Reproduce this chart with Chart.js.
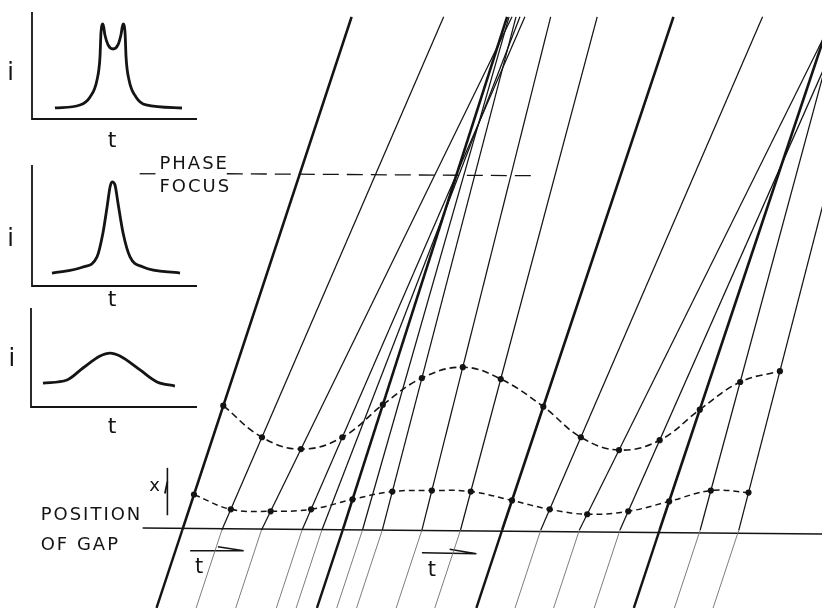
<!DOCTYPE html>
<html>
<head>
<meta charset="utf-8">
<script src="https://cdn.jsdelivr.net/npm/chart.js@4.4.1/dist/chart.umd.min.js"></script>
<style>
  body { margin: 0; background: #fff; }
  #wrap { position: relative; width: 826px; height: 612px; overflow: hidden; }
  canvas { position: absolute; left: 0; }
</style>
</head>
<body>
<div id="wrap">
  <canvas id="main" width="826" height="612" style="top:0"></canvas>
  <canvas id="inset1" width="205" height="150" style="top:0"></canvas>
  <canvas id="inset2" width="205" height="160" style="top:155px"></canvas>
  <canvas id="inset3" width="205" height="150" style="top:295px"></canvas>
</div>
<script>
// electron trajectories: time leaving the gap, time reaching the top edge
const departTimes = [180, 220, 260, 301, 342, 382, 422, 461, 503, 542, 581, 622, 662, 703, 742];
const topTimes    = [351, 444, 513, 526, 508, 517, 552, 599, 676, 766, 838, 851, 835, 843, 876];
const heavyLines  = [0, 4, 8, 12];
// extra trajectories in the bunch (no dots on them)
const extraDepart = [321, 362];
const extraTop    = [521, 510];
// positions of the dots on the two dashed curves (distance above the gap)
const upperDotHeights = [126, 94, 82, 94, 127, 154, 165, 153, 125, 94, 81, 91, 122, 150, 161];
const lowerDotHeights = [36, 21, 19, 21, 31, 39, 40, 39, 30, 21, 16, 19, 29, 40, 38];
const topHeight = 520;
const bottomHeight = -79;
const entryDrift = 26; // time shift of every electron between the bottom edge and the gap

// current pulses in the three small plots
const inset1T = [1.39, 2.91, 3.52, 3.94, 4.12, 4.18, 4.30, 4.42, 4.61, 4.91, 5.21, 5.39, 5.52, 5.64, 5.70, 5.88, 6.30, 6.91, 9.09];
const inset1I = [1.03, 1.31, 2.06, 3.64, 5.79, 8.04, 8.88, 7.85, 6.92, 6.54, 6.92, 7.85, 8.88, 8.04, 5.79, 3.64, 2.06, 1.31, 1.03];
const inset2T = [1.21, 3.09, 3.94, 4.30, 4.55, 4.73, 4.85, 5.03, 5.21, 5.52, 5.94, 6.73, 8.97];
const inset2I = [1.07, 1.57, 2.40, 4.38, 6.53, 8.18, 8.60, 8.35, 6.86, 4.38, 2.40, 1.57, 1.07];
const inset3T = [0.72, 2.17, 3.13, 4.16, 4.76, 5.36, 6.57, 7.59, 8.67];
const inset3I = [2.42, 2.73, 3.94, 5.15, 5.45, 5.15, 3.74, 2.53, 2.12];

const INK = '#141414';
const CAPS = '18px "DejaVu Sans"';

function textPlugin(items) {
    return {
        id: 'texts',
        afterDatasetsDraw(chart) {
            const ctx = chart.ctx;
            const sx = chart.scales.x, sy = chart.scales.y;
            ctx.save();
            ctx.fillStyle = INK;
            ctx.textBaseline = 'alphabetic';
            items.forEach(it => {
                ctx.font = it.font;
                ctx.textAlign = it.align || 'left';
                ctx.letterSpacing = it.spacing || '0px';
                ctx.fillText(it.text, sx.getPixelForValue(it.t), sy.getPixelForValue(it.v));
            });
            ctx.restore();
        }
    };
}

function trajectory(t0, tTop, heavy) {
    return {
        data: [
            { x: t0 - entryDrift, y: bottomHeight },
            { x: t0, y: 0 },
            { x: tTop, y: topHeight }
        ],
        showLine: true,
        borderColor: INK,
        borderWidth: heavy ? 2.6 : 1.2,
        pointRadius: 0,
        segment: {
            borderColor: c => (c.p0DataIndex === 0 && !heavy) ? '#6e6e6e' : INK,
            borderWidth: c => c.p0DataIndex === 0 ? (heavy ? 2.4 : 0.9) : (heavy ? 2.6 : 1.25)
        }
    };
}

// time at which trajectory k reaches a given height
function timeAt(k, h) {
    const t0 = departTimes[k];
    return t0 + h * (topTimes[k] - t0) / topHeight;
}

const datasets = [];
departTimes.forEach((t0, k) => datasets.push(trajectory(t0, topTimes[k], heavyLines.includes(k))));
extraDepart.forEach((t0, k) => datasets.push(trajectory(t0, extraTop[k], false)));

function dottedCurve(heights, dash, width) {
    return {
        data: heights.map((h, k) => ({ x: timeAt(k, h), y: h })),
        showLine: true,
        tension: 0.4,
        borderColor: INK,
        borderWidth: width,
        borderDash: dash,
        pointRadius: 3.1,
        pointBackgroundColor: INK,
        pointBorderWidth: 0
    };
}
datasets.push(dottedCurve(upperDotHeights, [7, 4], 1.6));
datasets.push(dottedCurve(lowerDotHeights, [6, 4], 1.5));

function plainLine(points, width, dash) {
    return {
        data: points,
        showLine: true,
        borderColor: INK,
        borderWidth: width,
        borderDash: dash || [],
        pointRadius: 0
    };
}
// position of gap
datasets.push(plainLine([{ x: 140, y: 2 }, { x: 826, y: -4 }], 1.6));
// phase focus
datasets.push(plainLine([{ x: 137, y: 361 }, { x: 153, y: 361 }], 1.3));
datasets.push(plainLine([{ x: 225, y: 361 }, { x: 535, y: 359 }], 1.3, [16, 8]));
// t arrows
datasets.push(plainLine([{ x: 188, y: -21 }, { x: 242, y: -21 }, { x: 216, y: -17 }], 1.6));
datasets.push(plainLine([{ x: 422, y: -23 }, { x: 477, y: -24 }, { x: 450, y: -19.5 }], 1.6));
// x arrow
datasets.push(plainLine([{ x: 165, y: 15 }, { x: 165, y: 63 }], 1.6));
datasets.push(plainLine([{ x: 165, y: 49 }, { x: 162.5, y: 37 }], 1.8));

new Chart(document.getElementById('main'), {
    type: 'scatter',
    data: { datasets: datasets },
    options: {
        responsive: false,
        animation: false,
        layout: { padding: 0 },
        plugins: { legend: { display: false }, tooltip: { enabled: false } },
        scales: {
            x: { type: 'linear', min: 0, max: 826, display: false },
            y: { type: 'linear', min: -79, max: 533, display: false }
        }
    },
    plugins: [textPlugin([
        { text: 'PHASE', t: 157, v: 366, font: CAPS, spacing: '2px' },
        { text: 'FOCUS', t: 157, v: 343, font: CAPS, spacing: '2px' },
        { text: 'POSITION', t: 37, v: 10, font: CAPS, spacing: '2px' },
        { text: 'OF GAP', t: 37, v: -20, font: CAPS, spacing: '2px' },
        { text: 't', t: 197, v: -44, font: '21px "DejaVu Sans"', align: 'center' },
        { text: 't', t: 432, v: -47, font: '21px "DejaVu Sans"', align: 'center' },
        { text: 'x', t: 152, v: 40, font: '18px "DejaVu Sans"', align: 'center' }
    ])]
});

function inset(id, ts, is, pad, labels) {
    new Chart(document.getElementById(id), {
        type: 'scatter',
        data: {
            datasets: [
                {
                    data: ts.map((t, n) => ({ x: t, y: is[n] })),
                    showLine: true,
                    cubicInterpolationMode: 'monotone',
                    borderColor: INK,
                    borderWidth: 2.8,
                    pointRadius: 0,
                    clip: false
                },
                {
                    data: [{ x: 0, y: 10 }, { x: 0, y: 0 }, { x: 10, y: 0 }],
                    showLine: true,
                    borderColor: INK,
                    borderWidth: 1.8,
                    pointRadius: 0,
                    clip: false
                }
            ]
        },
        options: {
            responsive: false,
            animation: false,
            layout: { padding: pad },
            plugins: { legend: { display: false }, tooltip: { enabled: false } },
            scales: {
                x: { type: 'linear', min: 0, max: 10, display: false },
                y: { type: 'linear', min: 0, max: 10, display: false }
            }
        },
        plugins: [textPlugin(labels)]
    });
}

inset('inset1', inset1T, inset1I, { left: 32, top: 12, right: 8, bottom: 31 }, [
    { text: 'i', t: -1.3, v: 3.6, font: '24px "DejaVu Sans"', align: 'center' },
    { text: 't', t: 4.85, v: -2.6, font: '22px "DejaVu Sans"', align: 'center' }
]);
inset('inset2', inset2T, inset2I, { left: 32, top: 10, right: 8, bottom: 29 }, [
    { text: 'i', t: -1.3, v: 3.3, font: '24px "DejaVu Sans"', align: 'center' },
    { text: 't', t: 4.85, v: -1.65, font: '22px "DejaVu Sans"', align: 'center' }
]);
inset('inset3', inset3T, inset3I, { left: 31, top: 13, right: 8, bottom: 38 }, [
    { text: 'i', t: -1.15, v: 4.1, font: '24px "DejaVu Sans"', align: 'center' },
    { text: 't', t: 4.88, v: -2.6, font: '22px "DejaVu Sans"', align: 'center' }
]);
</script>
</body>
</html>
